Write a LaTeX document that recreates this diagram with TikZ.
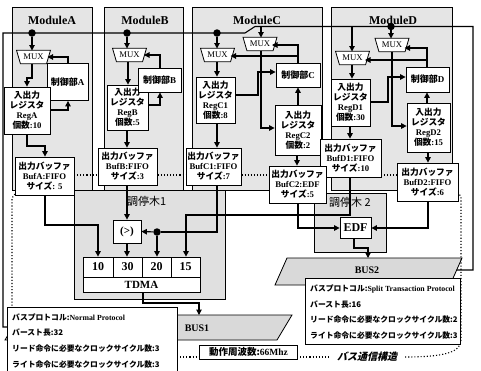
\documentclass[tikz,border=0pt]{standalone}
\usepackage{fontspec}
\setmainfont{Liberation Serif}
\newfontfamily\jp{Noto Sans CJK JP}
\newfontfamily\jpsl{Noto Sans CJK JP}[FakeSlant=0.25]
\usetikzlibrary{shapes.geometric,arrows.meta}
\newcommand\jb[1]{{\jp\bfseries #1}}
\begin{document}
\begin{tikzpicture}[x=1pt,y=-1pt,
  mod/.style={draw,line width=0.8pt,fill=black!10},
  arb/.style={draw,line width=0.8pt,fill=black!12},
  box/.style={draw,line width=0.8pt,fill=white,inner sep=0pt,align=center,font=\bfseries\fontsize{8.7}{10}\selectfont},
  mux/.style={draw,line width=0.8pt,fill=white,trapezium,trapezium angle=62,shape border rotate=180,trapezium stretches=true,minimum width=34pt,minimum height=13.5pt,inner sep=0pt,font=\fontsize{8.7}{9}\selectfont},
  arr/.style={line width=1.1pt,-{Triangle[length=5.5pt,width=5.5pt]}},
  ln/.style={line width=1.1pt},
  dt/.style={circle,fill=black,inner sep=0pt,minimum size=7.5pt},
  dots/.style={line width=1.1pt,dash pattern=on 1.1pt off 2pt},
  ttl/.style={font=\bfseries\fontsize{12}{12}\selectfont},
  info/.style={font=\bfseries\fontsize{7.8}{8}\selectfont,anchor=west,inner sep=0pt},
]
\useasboundingbox (0,0) rectangle (481,370);
\fill[white] (0,0) rectangle (481,370);
% modules
\node[mod,minimum width=80pt,minimum height=183pt,anchor=north west] (modA) at (12,7) {};
\node[mod,minimum width=79pt,minimum height=183pt,anchor=north west] (modB) at (104,7) {};
\node[mod,minimum width=130pt,minimum height=183pt,anchor=north west] (modC) at (192,7) {};
\node[mod,minimum width=121pt,minimum height=183pt,anchor=north west] (modD) at (331,7) {};
\node[ttl] (tA) at (52,20) {ModuleA};
\node[ttl] (tB) at (145,20) {ModuleB};
\node[ttl] (tC) at (257,20) {ModuleC};
\node[ttl] (tD) at (393,20) {ModuleD};
% arbiter trees
\node[arb,minimum width=151pt,minimum height=109pt,anchor=north west] (arb1) at (74,190) {};
\node[arb,minimum width=72pt,minimum height=59pt,anchor=north west] (arb2) at (314,193) {};
\node[anchor=west,font=\jp\fontsize{11}{11}\selectfont,inner sep=0pt] (arb1t) at (127,201) {調停木1};
\node[anchor=west,font=\jp\fontsize{11}{11}\selectfont,inner sep=0pt] (arb2t) at (329,202) {調停木 2};
% buses
\draw[fill=black!15,line width=0.8pt] (20,315) -- (292,315) -- (277,340) -- (5,340) -- cycle;
\node[font=\bfseries\fontsize{10}{10}\selectfont] (bus1) at (197,328) {BUS1};
\draw[fill=black!15,line width=0.8pt] (287,258) -- (462,258) -- (450,285) -- (275,285) -- cycle;
\node[font=\bfseries\fontsize{10}{10}\selectfont] (bus2) at (367,270) {BUS2};
% top bus line
\coordinate (b1l) at (3,33);
\draw[ln] (12.8,327) -- (3,327) -- (b1l) -- (245,33) -- (255,26.5) -- (473,26.5) -- (473,270) -- (456.5,270);
\node[dt] (dA) at (32,33) {};
\node[dt] (dB) at (127,33) {};
\node[dt] (dC) at (217,33) {};
\node[dt] (dD) at (391,26.5) {};
% dotted annotation lines
\draw[dots] (74,175) -- (397,175);
\draw[dots] (15,194) -- (12,198) -- (12,307);
\draw[dots] (458,192) -- (461,197) -- (461,340) .. controls (461,352) and (445,357) .. (405,357);
\draw[dots] (177,357) -- (199,357);
\draw[dots] (297,357) -- (330,357);
% MUXes
\node[mux] (muxA) at (33.5,57) {MUX};
\node[mux] (muxB) at (129.5,55) {MUX};
\node[mux] (muxC1) at (217.5,55) {MUX};
\node[mux] (muxC2) at (260,44) {MUX};
\node[mux] (muxD1) at (352.5,58) {MUX};
\node[mux] (muxD2) at (392,45) {MUX};
% control units
\node[box,font=\fontsize{9}{10}\selectfont,minimum width=41pt,minimum height=37pt] (ctlA) at (67.5,82) {\jb{制御部}\textbf{A}};
% registers
\node[box,minimum width=46pt,minimum height=47pt] (regA) at (27,110.5) {\jb{入出力}\\\jb{レジスタ}\\RegA\\\jb{個数}:10};
\node[box,minimum width=41pt,minimum height=45pt] (regB) at (127.5,107.5) {\jb{入出力}\\\jb{レジスタ}\\RegB\\\jb{個数}:5};
\node[box,font=\fontsize{9}{10}\selectfont,minimum width=43pt,minimum height=24pt] (ctlB) at (159.5,80) {\jb{制御部}\textbf{B}};
\node[box,minimum width=39pt,minimum height=46pt] (regC1) at (215.5,100) {\jb{入出力}\\\jb{レジスタ}\\RegC1\\\jb{個数}:8};
\node[box,font=\fontsize{9}{10}\selectfont,minimum width=44pt,minimum height=24pt] (ctlC) at (298,75) {\jb{制御部}\textbf{C}};
\node[box,minimum width=46pt,minimum height=50pt] (regC2) at (298,130) {\jb{入出力}\\\jb{レジスタ}\\RegC2\\\jb{個数}:2};
\node[box,minimum width=39pt,minimum height=47pt] (regD1) at (350.5,102.5) {\jb{入出力}\\\jb{レジスタ}\\RegD1\\\jb{個数}:30};
\node[box,font=\fontsize{9}{10}\selectfont,minimum width=43pt,minimum height=25pt] (ctlD) at (427.5,79.5) {\jb{制御部}\textbf{D}};
\node[box,minimum width=43pt,minimum height=49pt] (regD2) at (428.5,127.5) {\jb{入出力}\\\jb{レジスタ}\\RegD2\\\jb{個数}:15};
% buffers
\node[box,minimum width=59pt,minimum height=38pt] (bufA) at (44.5,176) {\jb{出力バッファ}\\BufA:FIFO\\\jb{サイズ}: 5};
\node[box,minimum width=59pt,minimum height=37pt] (bufB) at (127.5,166.5) {\jb{出力バッファ}\\BufB:FIFO\\\jb{サイズ}:3};
\node[box,minimum width=55pt,minimum height=37pt] (bufC1) at (213.5,166.5) {\jb{出力バッファ}\\BufC1:FIFO\\\jb{サイズ}:7};
\node[box,minimum width=61pt,minimum height=38pt] (bufD1) at (350.5,158) {\jb{出力バッファ}\\BufD1:FIFO\\\jb{サイズ}:10};
\node[box,minimum width=57pt,minimum height=37pt] (bufC2) at (297.5,184.5) {\jb{出力バッファ}\\BufC2:EDF\\\jb{サイズ}:5};
\node[box,minimum width=61pt,minimum height=38pt] (bufD2) at (427.5,182) {\jb{出力バッファ}\\BufD2:FIFO\\\jb{サイズ}:6};
% arbiters
\node[box,font=\bfseries\fontsize{11}{11}\selectfont,minimum width=28pt,minimum height=23pt] (prio) at (127,231.5) {(>)};
\node[box,font=\bfseries\fontsize{12}{12}\selectfont,minimum width=31pt,minimum height=21pt] (edf) at (355.5,228) {EDF};
\node[box,font=\bfseries\fontsize{12}{12}\selectfont,minimum width=30pt,minimum height=20pt] (t10) at (98,267) {10};
\node[box,font=\bfseries\fontsize{12}{12}\selectfont,minimum width=29pt,minimum height=20pt] (t30) at (127.5,267) {30};
\node[box,font=\bfseries\fontsize{12}{12}\selectfont,minimum width=29pt,minimum height=20pt] (t20) at (156.5,267) {20};
\node[box,font=\bfseries\fontsize{12}{12}\selectfont,minimum width=29pt,minimum height=20pt] (t15) at (185.5,267) {15};
\node[box,font=\bfseries\fontsize{11}{11}\selectfont,minimum width=117pt,minimum height=15pt] (tdma) at (141.5,284.5) {TDMA};
% connectors
\draw[arr] (dA) -- (32,50.5);
\draw[arr] (dB) -- (127,48.5);
\draw[arr] (dC) -- (217,48.5);
\draw[arr] (261,26.5) -- (261,37.5);
\draw[arr] (352,26.5) -- (352,51.5);
\draw[arr] (dD) -- (391,38.5);
% mux -> reg
\draw[arr] (32,63.5) -- (32,78) -- (27,78) -- (regA.north -| 27,0);
\draw[arr] (128,61.5) -- (regB.north -| 128,0);
\draw[arr] (217,61.5) -- (regC1.north -| 217,0);
\draw[arr] (261,50.5) -- (261,128) -- (regC2.west |- 0,128);
\draw[arr] (352,64.5) -- (regD1.north -| 352,0);
\draw[arr] (392,51.5) -- (392,126) -- (regD2.west |- 0,126);
% ctl -> mux
\draw[arr] (ctlA.north -| 68,0) -- (68,57) -- (47.5,57);
\draw[arr] (ctlB.north -| 160,0) -- (160,55) -- (144,55);
\draw[arr] (ctlC.north -| 298,0) -- (298,45) -- (272,45);
\draw[arr] (298,56) -- (230.5,56);
\draw[arr] (ctlD.north -| 427,0) -- (427,48) -- (404.5,48);
\draw[arr] (427,60) -- (365,60);
% reg -> ctl
\draw[arr] (regA.east |- 0,110) -- (68,110) -- (ctlA.south -| 68,0);
\draw[arr] (regB.east |- 0,105) -- (160,105) -- (ctlB.south -| 160,0);
\draw[arr] (regC1.east |- 0,95) -- (258,95) -- (258,72) -- (ctlC.west |- 0,72);
\draw[arr] (regC2.north -| 298,0) -- (ctlC.south -| 298,0);
\draw[arr] (regD1.east |- 0,102) -- (388,102) -- (388,77) -- (ctlD.west |- 0,77);
\draw[arr] (regD2.north -| 427,0) -- (ctlD.south -| 427,0);
% reg -> buf
\draw[arr] (regA.south -| 27,0) -- (27,146) -- (45,146) -- (bufA.north -| 45,0);
\draw[arr] (regB.south -| 127,0) -- (bufB.north -| 127,0);
\draw[arr] (regC1.south -| 217,0) -- (bufC1.north -| 217,0);
\draw[arr] (regC2.south -| 297,0) -- (bufC2.north -| 297,0);
\draw[arr] (regD1.south -| 350,0) -- (bufD1.north -| 350,0);
\draw[arr] (regD2.south -| 428,0) -- (bufD2.north -| 428,0);
% buf -> arbiters
\draw[arr] (bufA.south -| 45,0) -- (45,225) -- (98,225) -- (t10.north);
\draw[arr] (bufB.south -| 127,0) -- (prio.north);
\node[dt] (dT) at (157,232) {};
\draw[ln] (bufC1.south -| 217,0) -- (217,232) -- (dT);
\draw[arr] (dT) -- (prio.east);
\draw[arr] (dT) -- (t20.north -| dT);
\draw[arr] (prio.south) -- (t30.north -| prio.south);
\draw[arr] (bufD1.south -| 350,0) -- (350,215) -- (186,215) -- (t15.north -| 186,0);
\draw[arr] (bufC2.south -| 298,0) -- (298,228) -- (edf.west);
\draw[arr] (bufD2.south -| 428,0) -- (428,228) -- (edf.east);
\draw[arr] (tdma.south -| 143,0) -- (143,303) -- (199,303) -- (199,315);
\draw[arr] (edf.south -| 354,0) -- (354,248) -- (368,248) -- (368,258);
% info boxes
\node[draw,fill=white,line width=0.8pt,minimum width=170pt,minimum height=66pt,anchor=north west,inner sep=0pt] (info1) at (7,307) {};
\node[info] (i11) at (12,317) {\jb{バスプロトコル:}Normal Protocol};
\node[info] (i12) at (12,333) {\jb{バースト長:32}};
\node[info] (i13) at (12,349) {\jb{リード命令に必要なクロックサイクル数:3}};
\node[info] (i14) at (12,365) {\jb{ライト命令に必要なクロックサイクル数:3}};
\node[draw,fill=white,line width=0.8pt,minimum width=155pt,minimum height=66pt,anchor=north west,inner sep=0pt] (info2) at (305,278) {};
\node[info] (i21) at (310,289) {\jb{バスプロトコル:}Split Transaction Protocol};
\node[info] (i22) at (310,305) {\jb{バースト長:16}};
\node[info] (i23) at (310,320) {\jb{リード命令に必要なクロックサイクル数:2}};
\node[info] (i24) at (310,336) {\jb{ライト命令に必要なクロックサイクル数:3}};
\node[draw,fill=white,line width=0.8pt,minimum width=98pt,minimum height=14pt,anchor=north west,inner sep=0pt,font=\bfseries\fontsize{9.5}{9.5}\selectfont] (freq) at (199,345) {\jb{動作周波数:}66Mhz};
\node[font=\jpsl\bfseries\fontsize{10}{10}\selectfont] (title) at (367,357) {バス通信構造};
\end{tikzpicture}
\end{document}
